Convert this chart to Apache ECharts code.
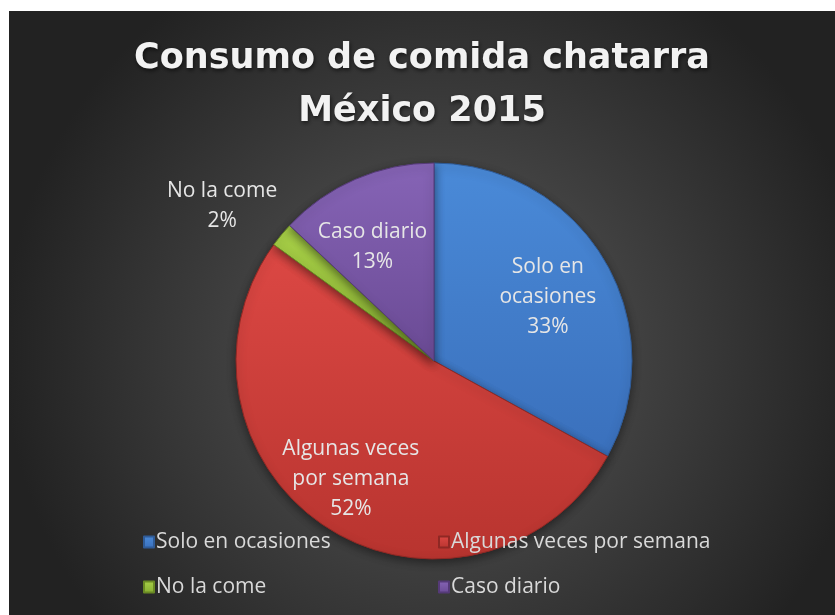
<!DOCTYPE html>
<html>
<head>
<meta charset="utf-8">
<script src="https://cdn.jsdelivr.net/npm/echarts@6/dist/echarts.min.js"></script>
<style>
  html, body { margin: 0; padding: 0; background: #ffffff; }
  #chart { position: absolute; left: 9px; top: 11px; width: 826px; height: 604px; }
</style>
</head>
<body>
<div id="chart"></div>
<script>
const titleLines = ['Consumo de comida chatarra', 'México 2015'];
const categories = ['Solo en ocasiones', 'Algunas veces por semana', 'No la come', 'Caso diario'];
const labelTexts = ['Solo en\nocasiones', 'Algunas veces\npor semana', 'No la come', 'Caso diario'];
const values = [33, 52, 2, 13];
const topColors = ['#4a8ad8', '#dc4844', '#a8d048', '#8664b6'];
const bottomColors = ['#3a70bc', '#b8342f', '#86ad31', '#6a4a94'];
const edgeColors = ['#2f5b97', '#8f2824', '#6a8a24', '#553a78'];
// small label nudges (px) to mimic the reference's best-fit label placement
const labelNudge = [[-2, 5], [-11, 4], [-9, 13], [-8, 10]];

const chart = echarts.init(document.getElementById('chart'));

function grad(i) {
  return new echarts.graphic.LinearGradient(0, 0, 0, 1, [
    { offset: 0, color: topColors[i] },
    { offset: 1, color: bottomColors[i] }
  ]);
}

const data = categories.map((name, i) => ({
  name: name,
  value: values[i],
  itemStyle: { color: grad(i), borderColor: edgeColors[i] }
}));

const option = {
  backgroundColor: {
    type: 'radial', x: 0.52, y: 0.56, r: 0.72,
    colorStops: [
      { offset: 0, color: '#5a5a5a' },
      { offset: 1, color: '#222222' }
    ]
  },
  title: {
    text: titleLines.join('\n'),
    left: 'center',
    top: 16,
    padding: [5, 5, 5, 16],
    textStyle: {
      fontFamily: 'DejaVu Sans',
      fontSize: 35,
      fontWeight: 'bold',
      lineHeight: 53,
      color: '#f2f2f2',
      textShadowColor: 'rgba(0,0,0,0.6)',
      textShadowBlur: 4,
      textShadowOffsetX: 1,
      textShadowOffsetY: 2
    }
  },
  legend: {
    left: 129,
    top: 514,
    width: 620,
    orient: 'horizontal',
    itemWidth: 10,
    itemHeight: 11,
    itemGap: 21,
    icon: 'rect',
    textStyle: {
      fontFamily: 'Open Sans',
      fontSize: 21,
      color: '#d9d9d9',
      width: 261,
      overflow: 'truncate',
      lineHeight: 24,
      padding: [0, 0, 0, -3]
    },
    data: categories
  },
  series: [{
    type: 'pie',
    center: [425, 350],
    radius: 198,
    startAngle: 90,
    clockwise: true,
    animation: false,
    data: data,
    itemStyle: {
      borderWidth: 1,
      shadowBlur: 10,
      shadowColor: 'rgba(0,0,0,0.45)',
      shadowOffsetY: 3
    },
    label: {
      show: true,
      position: 'inside',
      fontFamily: 'Open Sans',
      fontSize: 21,
      lineHeight: 30,
      color: '#e6e6e6',
      align: 'center',
      formatter: p => labelTexts[p.dataIndex] + '\n' + Math.round(p.percent) + '%'
    },
    labelLine: { show: false },
    labelLayout: function (params) {
      const d = chart.getModel().getSeriesByIndex(0).getData();
      const l = d.getItemLayout(params.dataIndex);
      const mid = (l.startAngle + l.endAngle) / 2;
      const share = (l.endAngle - l.startAngle) / (2 * Math.PI);
      const k = share < 0.05 ? 1.33 : 0.68;
      const n = labelNudge[params.dataIndex];
      return {
        x: l.cx + Math.cos(mid) * l.r * k + n[0],
        y: l.cy + Math.sin(mid) * l.r * k + n[1],
        align: 'center',
        verticalAlign: 'middle'
      };
    }
  }]
};

chart.setOption(option);
</script>
</body>
</html>
